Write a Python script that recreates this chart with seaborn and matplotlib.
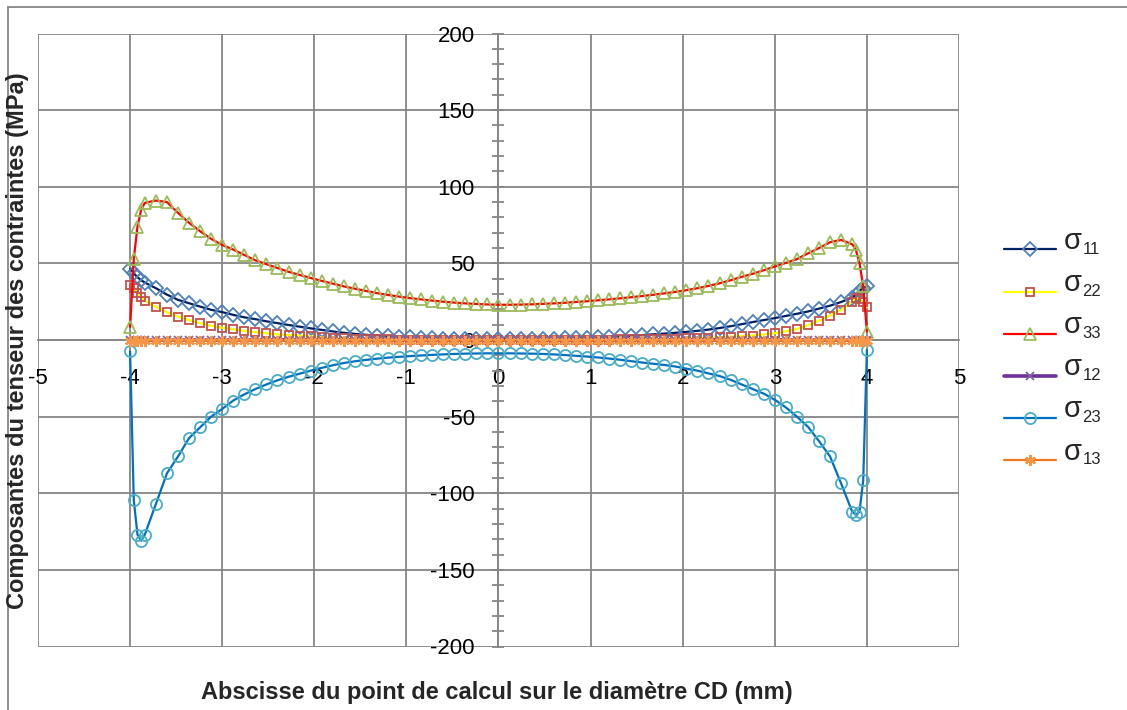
import numpy as np
import pandas as pd
import matplotlib
matplotlib.use("Agg")
import matplotlib.pyplot as plt
from matplotlib.lines import Line2D
from matplotlib.ticker import MultipleLocator
import seaborn as sns

# ---------------- data ----------------
x_mm = [-4.00, -3.96, -3.92, -3.88,
        -3.84, -3.72, -3.60, -3.48, -3.36, -3.24, -3.12, -3.00, -2.88, -2.76,
        -2.64, -2.52, -2.40, -2.28, -2.16, -2.04, -1.92, -1.80, -1.68, -1.56,
        -1.44, -1.32, -1.20, -1.08, -0.96, -0.84, -0.72, -0.60, -0.48, -0.36,
        -0.24, -0.12, 0.00, 0.12, 0.24, 0.36, 0.48, 0.60, 0.72, 0.84,
        0.96, 1.08, 1.20, 1.32, 1.44, 1.56, 1.68, 1.80, 1.92, 2.04,
        2.16, 2.28, 2.40, 2.52, 2.64, 2.76, 2.88, 3.00, 3.12, 3.24,
        3.36, 3.48, 3.60, 3.72, 3.84,
        3.88, 3.92, 3.96, 4.00]

s11 = [46.5, 43.5, 41.0, 39.0,
       37.5, 33.8, 29.6, 26.2, 24.0, 21.8, 19.7, 18.2, 16.4, 14.8,
       13.6, 12.2, 11.0, 9.8, 8.7, 7.6, 6.6, 5.6, 4.7, 4.0,
       3.4, 2.9, 2.4, 2.0, 1.7, 1.4, 1.1, 0.9, 0.7, 0.6,
       0.5, 0.5, 0.5, 0.5, 0.5, 0.6, 0.7, 0.8, 1.0, 1.2,
       1.4, 1.7, 2.0, 2.4, 2.8, 3.2, 3.7, 4.2, 4.7, 5.3,
       6.0, 6.8, 7.8, 9.0, 10.3, 11.7, 13.0, 14.3, 15.7, 17.1,
       18.6, 20.5, 22.4, 24.8, 27.7,
       29.5, 32.0, 34.2, 35.0]

s22 = [36.0, 33.8, 30.5, 28.3,
       25.5, 21.8, 18.0, 15.3, 13.0, 11.0, 9.3, 8.0, 7.0, 6.0,
       5.1, 4.4, 3.7, 3.2, 2.8, 2.3, 1.8, 1.4, 1.1, 0.8,
       0.6, 0.5, 0.4, 0.3, 0.3, 0.2, 0.2, 0.2, 0.2, 0.2,
       0.2, 0.2, 0.2, 0.2, 0.2, 0.2, 0.2, 0.2, 0.2, 0.2,
       0.3, 0.3, 0.3, 0.4, 0.4, 0.5, 0.6, 0.8, 0.9, 1.1,
       1.3, 1.5, 1.8, 2.1, 2.5, 2.9, 3.6, 4.4, 5.7, 7.2,
       9.6, 12.5, 15.9, 19.7, 25.0,
       27.6, 26.5, 25.0, 21.5]

s33 = [8.5, 53.0, 74.0, 85.0,
       89.5, 91.0, 90.0, 83.0, 76.5, 71.0, 66.0, 62.0, 59.0, 55.5,
       52.0, 49.5, 47.0, 44.5, 42.5, 40.5, 38.6, 36.8, 35.0, 33.5,
       32.0, 30.6, 29.4, 28.3, 27.3, 26.5, 25.7, 25.0, 24.4, 23.9,
       23.5, 23.2, 23.0, 23.0, 23.1, 23.3, 23.6, 23.9, 24.3, 24.8,
       25.3, 25.9, 26.5, 27.2, 27.9, 28.7, 29.5, 30.4, 31.4, 32.5,
       33.8, 35.3, 37.0, 39.0, 41.2, 43.2, 45.5, 48.0, 50.3, 52.8,
       56.5, 60.0, 63.8, 65.3, 62.5,
       59.0, 50.0, 35.0, 5.5]

s12 = [-0.3, -0.2, -0.2, -0.1,
       -0.1, 0.0, 0.0, 0.1, 0.1, 0.1, 0.1, 0.1, 0.1, 0.1,
       0.1, 0.1, 0.1, 0.1, 0.1, 0.1, 0.1, 0.1, 0.1, 0.1,
       0.1, 0.1, 0.1, 0.1, 0.1, 0.1, 0.1, 0.1, 0.1, 0.1,
       0.1, 0.1, 0.1, 0.1, 0.1, 0.1, 0.1, 0.1, 0.1, 0.1,
       0.1, 0.1, 0.1, 0.1, 0.1, 0.1, 0.1, 0.1, 0.1, 0.1,
       0.1, 0.1, 0.1, 0.1, 0.1, 0.1, 0.1, 0.1, 0.1, 0.1,
       0.1, 0.1, 0.0, 0.0, -0.1,
       -0.1, -0.2, -0.2, -0.3]

s23 = [-7.5, -104.5, -127.0, -131.0,
       -127.0, -107.0, -87.0, -76.0, -64.0, -57.0, -50.0, -45.0, -39.5, -35.5,
       -32.0, -29.0, -26.3, -24.0, -22.0, -20.0, -18.2, -16.5, -15.0, -13.9,
       -13.0, -12.2, -11.5, -11.0, -10.5, -10.1, -9.7, -9.4, -9.1, -8.9,
       -8.8, -8.7, -8.7, -8.7, -8.8, -8.9, -9.1, -9.4, -9.8, -10.3,
       -10.8, -11.4, -12.1, -12.9, -13.8, -14.7, -15.5, -16.3, -17.3, -18.7,
       -20.0, -21.8, -23.5, -26.0, -29.0, -32.0, -35.0, -39.0, -44.0, -50.0,
       -56.6, -66.0, -76.0, -93.6, -112.0,
       -114.0, -112.0, -91.5, -6.5]

s13 = [-0.6, -0.6, -0.5, -0.5,
       -0.5, -0.4, -0.4, -0.4, -0.4, -0.4, -0.4, -0.4, -0.4, -0.4,
       -0.4, -0.4, -0.4, -0.4, -0.4, -0.4, -0.4, -0.4, -0.4, -0.4,
       -0.4, -0.4, -0.4, -0.4, -0.4, -0.4, -0.4, -0.4, -0.4, -0.4,
       -0.4, -0.4, -0.4, -0.4, -0.4, -0.4, -0.4, -0.4, -0.4, -0.4,
       -0.4, -0.4, -0.4, -0.4, -0.4, -0.4, -0.4, -0.4, -0.4, -0.4,
       -0.4, -0.4, -0.4, -0.4, -0.4, -0.4, -0.4, -0.4, -0.4, -0.4,
       -0.4, -0.4, -0.4, -0.4, -0.5,
       -0.5, -0.5, -0.6, -0.6]

series_subscripts = ["11", "22", "33", "12", "23", "13"]
series_labels = ["σ" + s for s in series_subscripts]
x_ticks = [-5, -4, -3, -2, -1, 0, 1, 2, 3, 4, 5]
y_ticks = [-200, -150, -100, -50, 0, 50, 100, 150, 200]
x_label = "Abscisse du point de calcul sur le diamètre CD (mm)"
y_label = "Composantes du tenseur des contraintes (MPa)"

# ---------------- style ----------------
sns.set_theme(style="white")
plt.rcParams["font.family"] = ["Liberation Sans", "DejaVu Sans"]

GRID = "#868686"

W, H = 1127, 710
fig = plt.figure(figsize=(W / 100, H / 100), dpi=100)
fig.patch.set_facecolor("white")
x0, x1 = 38, 959
y0, y1 = 33.5, 646.5
ax = fig.add_axes([x0 / W, 1 - y1 / H, (x1 - x0) / W, (y1 - y0) / H])

styles = [
    dict(color="#002060", marker="D", markersize=7.2, mec="#4F81BD", mfc="none", mew=1.3, lw=1.6),
    dict(color="#FFFF00", marker="s", markersize=6.3, mec="#C0504D", mfc="none", mew=1.3, lw=1.6),
    dict(color="#FF0000", marker="^", markersize=8.5, mec="#9BBB59", mfc="none", mew=1.3, lw=1.6),
    dict(color="#7030A0", marker="x", markersize=6, mec="#8064A2", mfc="none", mew=1.3, lw=2.6),
    dict(color="#0070C0", marker="o", markersize=8, mec="#4BACC6", mfc="none", mew=1.3, lw=1.6),
    dict(color="#F07820", marker=(6, 2, 0), markersize=8, mec="#F79646", mfc="none", mew=1.6, lw=1.6),
]
all_series = [s11, s22, s33, s12, s23, s13]

handles = []
for vals, lab, st in zip(all_series, series_labels, styles):
    df = pd.DataFrame({"x": x_mm, "y": vals})
    sns.lineplot(data=df, x="x", y="y", ax=ax, sort=False, estimator=None,
                 color=st["color"], marker=st["marker"], markersize=st["markersize"],
                 markeredgecolor=st["mec"], markerfacecolor=st["mfc"],
                 markeredgewidth=st["mew"], linewidth=st["lw"], zorder=3)
    handles.append(Line2D([0], [0], color=st["color"], marker=st["marker"],
                          markersize=st["markersize"], markeredgecolor=st["mec"],
                          markerfacecolor=st["mfc"], markeredgewidth=st["mew"],
                          linewidth=st["lw"]))

ax.set_xlim(-5, 5)
ax.set_ylim(-200, 200)
ax.set_xticks(x_ticks)
ax.set_yticks(y_ticks)
ax.set_xticklabels([str(v) for v in x_ticks])
ax.set_yticklabels([str(v) for v in y_ticks])
ax.yaxis.set_minor_locator(MultipleLocator(10))

ax.grid(True, which="major", color=GRID, linewidth=1.3)
ax.set_axisbelow(True)

for side in ["top", "right"]:
    ax.spines[side].set_visible(False)
ax.spines["left"].set_position(("data", 0))
ax.spines["bottom"].set_position(("data", 0))
for side in ["left", "bottom"]:
    ax.spines[side].set_color(GRID)
    ax.spines[side].set_linewidth(1.3)

ax.tick_params(axis="y", which="both", direction="inout", length=8, width=1.3,
               color=GRID, labelsize=16, pad=13, left=True, labelcolor="black")
ax.tick_params(axis="y", which="minor", length=8)
ax.tick_params(axis="x", which="both", length=0, labelsize=16, pad=20,
               bottom=True, labelcolor="black")

ax.set_xlabel("")
ax.set_ylabel("")

fig.text(497 / W, 1 - 692 / H, x_label, ha="center", va="center",
         fontsize=17, fontweight="bold")
fig.text(18 / W, 1 - 341 / H, y_label, ha="center", va="center",
         rotation=90, fontsize=17, fontweight="bold")

# chart-area border
fig.add_artist(Line2D([8 / W, 1.0], [1 - 7 / H, 1 - 7 / H], transform=fig.transFigure,
                      color=GRID, lw=1.3))
fig.add_artist(Line2D([8 / W, 8 / W], [0.0, 1 - 7 / H], transform=fig.transFigure,
                      color=GRID, lw=1.3))

leg = fig.legend(handles, series_labels, loc="center left",
                 bbox_to_anchor=(1004 / W, 1 - 357 / H), frameon=False,
                 fontsize=16, handlelength=2.35, handletextpad=0.3, borderpad=0,
                 borderaxespad=0, labelspacing=0.95, numpoints=1)

# Legend labels: large sigma with smaller subscript (as in the original)
fig.canvas.draw()
renderer = fig.canvas.get_renderer()
for txt, hnd, sub in zip(leg.get_texts(), leg.legend_handles, series_subscripts):
    tb = txt.get_window_extent(renderer)
    hb = hnd.get_window_extent(renderer)
    ly = (hb.y0 + hb.y1) / 2.0
    txt.set_visible(False)
    sig = fig.text(tb.x0 / W + 1 / W, (ly + 0.5) / H, "σ", fontsize=21,
                   ha="left", va="baseline")
    sb = sig.get_window_extent(renderer)
    fig.text((sb.x1 + 0.5) / W, (ly - 4.5) / H, sub, fontsize=12,
             ha="left", va="baseline")

fig.savefig("out.png", dpi=100)
